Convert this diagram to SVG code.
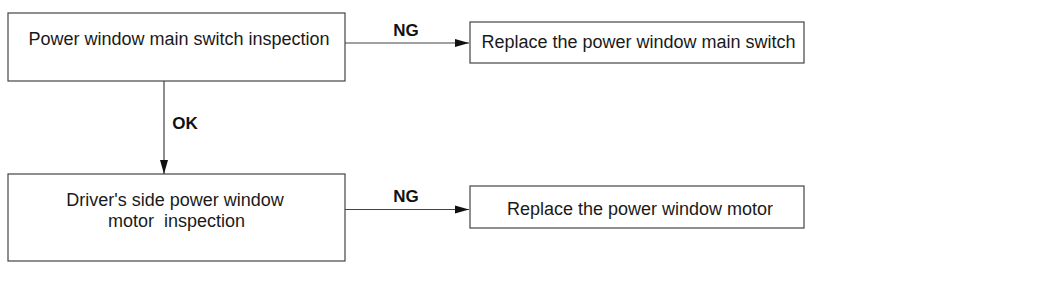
<svg xmlns="http://www.w3.org/2000/svg" width="1050" height="283" viewBox="0 0 1050 283">
<style>
.box{fill:#fff;stroke:#444;stroke-width:1.2}
.t{font-family:"Liberation Sans",Arial,sans-serif;font-size:18px;fill:#1a1a1a;text-anchor:middle}
.lbl{font-family:"Liberation Sans",Arial,sans-serif;font-size:17px;font-weight:bold;fill:#111;text-anchor:middle}
.ln{stroke:#444;stroke-width:1.2;fill:none}
</style>
<defs>
<marker id="ah" markerWidth="14" markerHeight="10" refX="14" refY="5" orient="auto" markerUnits="userSpaceOnUse">
<path d="M0,1 L14,5 L0,9 Z" fill="#111"/>
</marker>
</defs>
<rect width="1050" height="283" fill="#fff"/>
<g id="connectors">
<line class="ln" x1="345" y1="43" x2="469" y2="43" marker-end="url(#ah)"/>
<line class="ln" x1="164" y1="81" x2="164" y2="174" marker-end="url(#ah)"/>
<line class="ln" x1="345" y1="209.5" x2="469" y2="209.5" marker-end="url(#ah)"/>
<text class="lbl" x="406" y="36">NG</text>
<text class="lbl" x="185" y="129">OK</text>
<text class="lbl" x="406" y="201.5">NG</text>
</g>
<g id="n1">
<rect class="box" x="8" y="13" width="337" height="68"/>
<text class="t" x="179" y="45">Power window main switch inspection</text>
</g>
<g id="n2">
<rect class="box" x="470" y="22" width="334" height="41"/>
<text class="t" x="638.5" y="47.5">Replace the power window main switch</text>
</g>
<g id="n3">
<rect class="box" x="8" y="174" width="337" height="87"/>
<text class="t" x="175" y="205.5">Driver's side power window</text>
<text class="t" x="176.5" y="226.5" xml:space="preserve">motor  inspection</text>
</g>
<g id="n4">
<rect class="box" x="470" y="186" width="334" height="42"/>
<text class="t" x="640" y="215">Replace the power window motor</text>
</g>
</svg>
